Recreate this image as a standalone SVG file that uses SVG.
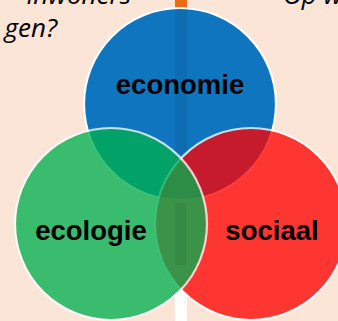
<svg xmlns="http://www.w3.org/2000/svg" width="338" height="321" viewBox="0 0 338 321">
<style>
.lbl{font-family:"Liberation Sans",Arial,sans-serif;font-weight:bold;font-size:27.5px;fill:#000;text-anchor:middle}
.top{font-family:"Open Sans","Noto Sans",sans-serif;font-style:italic;font-size:26px;fill:#000}
.c{stroke:#fff;stroke-width:2.2}
</style>
<defs>
<clipPath id="blueClip"><circle cx="180" cy="104" r="95"/></clipPath>
</defs>
<rect width="338" height="321" fill="#FBE5D6"/>
<text class="top" x="131" y="4" text-anchor="end">inwoners</text>
<text class="top" x="57" y="37" text-anchor="end">gen?</text>
<text class="top" x="283" y="4">Op w</text>
<rect x="175" y="0" width="12" height="20" fill="#EE6A12"/>
<rect x="175" y="292" width="12" height="29" fill="#FFFFFF"/>
<g id="economie">
<circle class="c" cx="180" cy="104" r="96" fill="#1075BF"/>
<rect x="175" y="0" width="12" height="200" fill="#000" fill-opacity="0.07" clip-path="url(#blueClip)"/>
<text class="lbl" x="180" y="94">economie</text>
</g>
<g id="sociaal">
<circle class="c" cx="251" cy="224" r="96" fill="#FF0000" opacity="0.76"/>
<text class="lbl" x="272" y="240">sociaal</text>
</g>
<g id="ecologie">
<circle class="c" cx="111" cy="224" r="96" fill="#00B050" opacity="0.77"/>
<text class="lbl" x="91" y="240">ecologie</text>
</g>
<rect x="175" y="203" width="11" height="62" fill="#000" fill-opacity="0.06"/>
</svg>
